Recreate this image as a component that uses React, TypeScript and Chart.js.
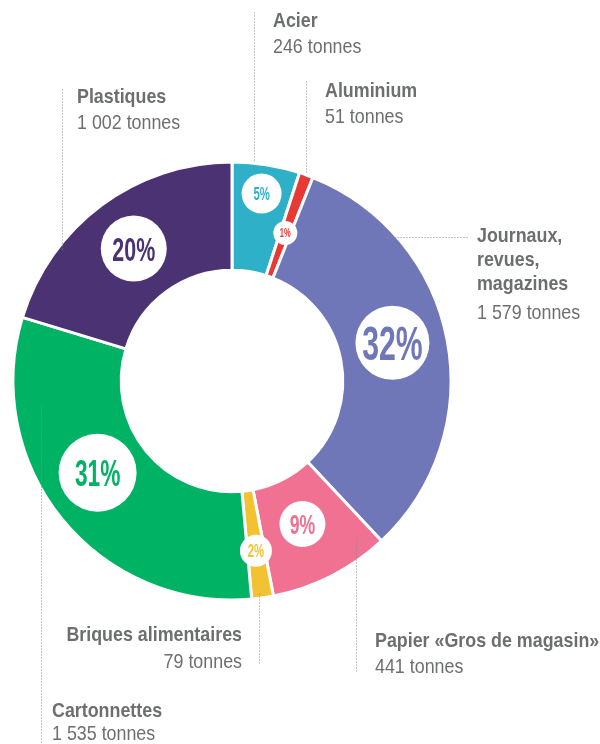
import React, { useEffect, useRef } from "react";
import { Chart, registerables } from "chart.js";

Chart.register(...registerables);

// ---- Data ----
const categories = [
  "Acier",
  "Aluminium",
  "Journaux, revues, magazines",
  "Papier «Gros de magasin»",
  "Briques alimentaires",
  "Cartonnettes",
  "Plastiques",
];
const nameLines = [
  ["Acier"],
  ["Aluminium"],
  ["Journaux,", "revues,", "magazines"],
  ["Papier «Gros de magasin»"],
  ["Briques alimentaires"],
  ["Cartonnettes"],
  ["Plastiques"],
];
const tonnes = [246, 51, 1579, 441, 79, 1535, 1002];
const tonnesLabels = [
  "246 tonnes",
  "51 tonnes",
  "1 579 tonnes",
  "441 tonnes",
  "79 tonnes",
  "1 535 tonnes",
  "1 002 tonnes",
];

// ---- Styles ----
const colors = ["#2eb1c8", "#e73a35", "#6f77b9", "#f07192", "#f3c233", "#00b264", "#4b3273"];
const badgeRadius = [20, 12, 37, 23, 16, 39, 33];
const badgeFont = [18, 12, 48, 28, 18, 36, 34];
const badgeRing = [0.73, 0.43, 0.5, 0.45, 0.56, 0.48, 0.5];
const badgeAngleShiftDeg = [0, 0, -2.7, 0.8, 0, 4.8, 0];
const TEXT = "#6d6e70";
const FONT = "'Liberation Sans', Arial, sans-serif";
const LABEL_SCALE = 0.85;
const BADGE_SCALE = 0.63;

// label layout: text anchor x, baselines, alignment, leader line
const labelLayout = [
  { x: 273, ys: [27, 53], align: "left", line: [254, 12, 254, 162] },
  { x: 325, ys: [97, 123], align: "left", line: [306, 81, 306, 172] },
  { x: 477, ys: [242, 266, 290, 319], align: "left", line: [385, 237, 467, 237] },
  { x: 375, ys: [647, 673], align: "left", line: [356, 538, 356, 672] },
  { x: 242, ys: [641, 668], align: "right", line: [259, 593, 259, 665] },
  { x: 52, ys: [717, 740], align: "left", line: [41, 405, 41, 744] },
  { x: 77, ys: [103, 129], align: "left", line: [62, 89, 62, 250] },
];

function drawScaled(
  ctx: CanvasRenderingContext2D,
  text: string,
  x: number,
  y: number,
  sx: number,
  align: CanvasTextAlign
) {
  ctx.save();
  ctx.translate(x, y);
  ctx.scale(sx, 1);
  ctx.textAlign = align;
  ctx.fillText(text, 0, 0);
  ctx.restore();
}

const overlayPlugin = {
  id: "overlay",
  afterDatasetsDraw(chart: any) {
    const ctx: CanvasRenderingContext2D = chart.ctx;
    const meta = chart.getDatasetMeta(0);
    const total = tonnes.reduce((a, b) => a + b, 0);

    // leader lines
    ctx.save();
    ctx.strokeStyle = "#8a8a8c";
    ctx.lineWidth = 1;
    ctx.setLineDash([1, 2]);
    labelLayout.forEach((l) => {
      ctx.beginPath();
      ctx.moveTo(l.line[0] + 0.5, l.line[1] + 0.5);
      ctx.lineTo(l.line[2] + 0.5, l.line[3] + 0.5);
      ctx.stroke();
    });
    ctx.restore();

    // labels
    ctx.save();
    ctx.fillStyle = TEXT;
    ctx.textBaseline = "alphabetic";
    labelLayout.forEach((l, i) => {
      const lines = nameLines[i];
      const align: CanvasTextAlign = l.align === "right" ? "right" : "left";
      ctx.font = `bold 21px ${FONT}`;
      lines.forEach((t, k) => drawScaled(ctx, t, l.x, l.ys[k], LABEL_SCALE, align));
      ctx.font = `21px ${FONT}`;
      drawScaled(ctx, tonnesLabels[i], l.x, l.ys[lines.length], LABEL_SCALE, align);
    });
    ctx.restore();

    // percentage badges
    meta.data.forEach((arc: any, i: number) => {
      const p = arc.getProps(["x", "y", "startAngle", "endAngle", "innerRadius", "outerRadius"], true);
      const mid = (p.startAngle + p.endAngle) / 2 + (badgeAngleShiftDeg[i] * Math.PI) / 180;
      const r = p.innerRadius + (p.outerRadius - p.innerRadius) * badgeRing[i];
      const bx = p.x + Math.cos(mid) * r;
      const by = p.y + Math.sin(mid) * r;
      ctx.save();
      ctx.fillStyle = "#ffffff";
      ctx.beginPath();
      ctx.arc(bx, by, badgeRadius[i], 0, Math.PI * 2);
      ctx.fill();
      const pct = Math.round((tonnes[i] / total) * 100) + "%";
      const fs = badgeFont[i];
      ctx.fillStyle = colors[i];
      ctx.font = `bold ${fs}px ${FONT}`;
      ctx.textBaseline = "alphabetic";
      drawScaled(ctx, pct, bx, by + fs * 0.36, BADGE_SCALE, "center");
      ctx.restore();
    });
  },
};

export default function App() {
  const ref = useRef<HTMLCanvasElement | null>(null);
  useEffect(() => {
    if (!ref.current) return;
    const R = 220.5;
    const cx = 232;
    const cy = 381;
    const chart = new Chart(ref.current, {
      type: "doughnut",
      data: {
        labels: categories,
        datasets: [
          {
            data: tonnes,
            backgroundColor: colors,
            borderColor: "#ffffff",
            borderWidth: 3,
            hoverOffset: 0,
          },
        ],
      },
      options: {
        animation: false,
        responsive: false,
        maintainAspectRatio: false,
        cutout: "50.6%",
        layout: {
          padding: {
            left: cx - R,
            right: 600 - (cx + R),
            top: cy - R,
            bottom: 744 - (cy + R),
          },
        },
        plugins: {
          legend: { display: false },
          tooltip: { enabled: false },
        },
        events: [],
      },
      plugins: [overlayPlugin],
    });
    return () => chart.destroy();
  }, []);
  return (
    <div style={{ position: "absolute", left: 0, top: 0, width: 600, height: 744, background: "#fff" }}>
      <canvas ref={ref} width={600} height={744} style={{ width: 600, height: 744, display: "block" }} />
    </div>
  );
}
